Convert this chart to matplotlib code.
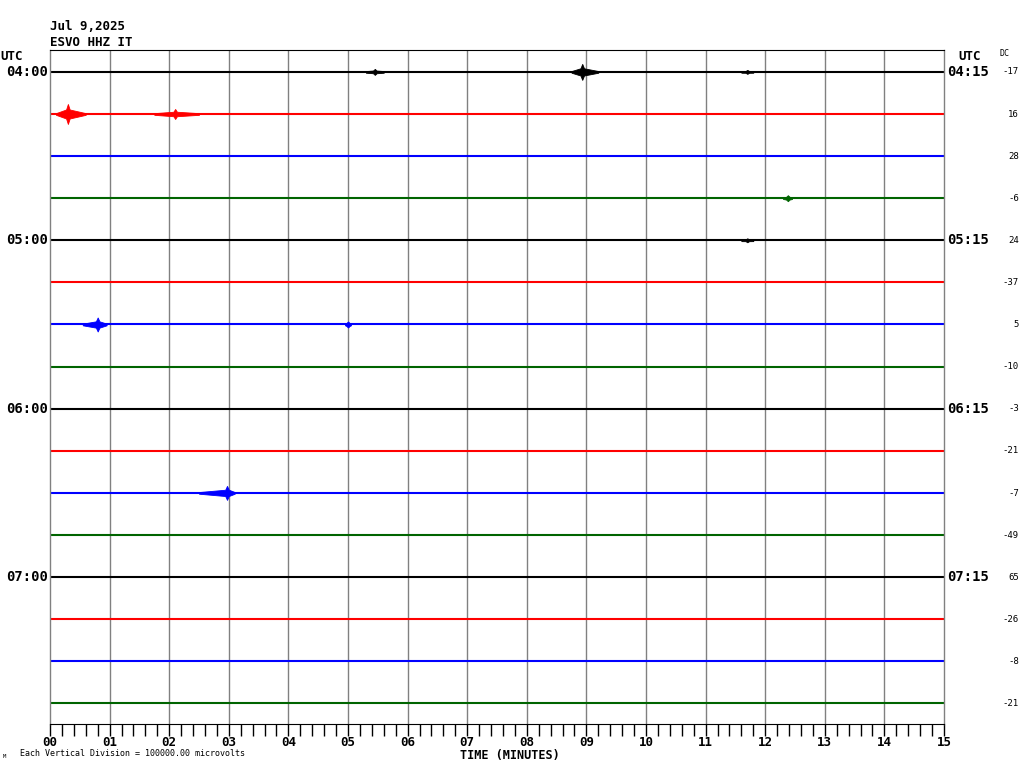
import matplotlib
matplotlib.use("Agg")
import matplotlib.pyplot as plt
from matplotlib.ticker import MultipleLocator

# helicorder layout: 16 lines of 15 minutes each
row_colors = ["black", "red", "blue", "#006400"] * 4
left_labels = ["04:00", "", "", "", "05:00", "", "", "", "06:00", "", "", "", "07:00", "", "", ""]
right_labels = ["04:15", "", "", "", "05:15", "", "", "", "06:15", "", "", "", "07:15", "", "", ""]
dc_values = ["-17", "16", "28", "-6", "24", "-37", "5", "-10", "-3", "-21", "-7", "-49", "65", "-26", "-8", "-21"]
minute_labels = ["%02d" % m for m in range(16)]

# visible bursts: row, start, peak, end (minutes), half-height (px)
event_row = [0, 0, 0, 1, 1, 3, 4, 6, 6, 10]
event_start = [5.3, 8.75, 11.6, 0.1, 1.75, 12.3, 11.6, 0.55, 4.95, 2.5]
event_peak = [5.45, 8.93, 11.7, 0.3, 2.1, 12.38, 11.7, 0.8, 5.0, 2.97]
event_end = [5.6, 9.2, 11.8, 0.6, 2.5, 12.45, 11.8, 0.95, 5.05, 3.1]
event_amp = [3, 8, 2, 10, 5, 3, 2, 7, 3, 7]

ROW_PX = 42.1
MONO = "DejaVu Sans Mono"

fig = plt.figure(figsize=(10.24, 7.68), dpi=100)
ax = fig.add_axes([50 / 1024, 44 / 768, 894 / 1024, 674 / 768])
ax.set_xlim(0, 15)
ax.set_ylim(-15.49, 0.52)

for m in range(1, 15):
    ax.axvline(m, color="#808080", lw=1.0, zorder=1)

for i, c in enumerate(row_colors):
    ax.plot([0, 15], [-i, -i], color=c, lw=1.5, zorder=2, solid_capstyle="butt")

for r, s, p, e, a in zip(event_row, event_start, event_peak, event_end, event_amp):
    h = a / ROW_PX
    xs = [s, p - 0.03, p, p + 0.03, e]
    up = [-r + 0.02, -r + 0.45 * h, -r + h, -r + 0.45 * h, -r + 0.02]
    dn = [-r - 0.02, -r - 0.45 * h, -r - h, -r - 0.45 * h, -r - 0.02]
    ax.fill_between(xs, up, dn, color=row_colors[r], lw=0.6, zorder=3)

for side in ["left", "right"]:
    ax.spines[side].set_color("#808080")
    ax.spines[side].set_linewidth(1.0)
ax.spines["top"].set_color("black")
ax.spines["bottom"].set_color("black")

ax.set_yticks([])
ax.xaxis.set_major_locator(MultipleLocator(1))
ax.xaxis.set_minor_locator(MultipleLocator(0.2))
ax.tick_params(axis="x", which="both", direction="out", length=8.5, width=1, color="black", pad=0.5)
ax.set_xticks(range(16))
ax.set_xticklabels(minute_labels, fontfamily=MONO, fontweight="bold", fontsize=9)

for i in range(16):
    y = 1 - (72 + i * ROW_PX) / 768
    if left_labels[i]:
        fig.text(48 / 1024, y, left_labels[i], ha="right", va="center", fontfamily=MONO,
                 fontweight="bold", fontsize=10)
    if right_labels[i]:
        fig.text(947 / 1024, y, right_labels[i], ha="left", va="center", fontfamily=MONO,
                 fontweight="bold", fontsize=10)
    fig.text(1019 / 1024, y, dc_values[i], ha="right", va="center", fontfamily=MONO, fontsize=6.5)

fig.text(50 / 1024, 1 - 26 / 768, "Jul 9,2025", fontfamily=MONO, fontweight="bold", fontsize=9, va="center")
fig.text(50 / 1024, 1 - 42 / 768, "ESVO HHZ IT", fontfamily=MONO, fontweight="bold", fontsize=9, va="center")
fig.text(0 / 1024, 1 - 57 / 768, "UTC", fontfamily=MONO, fontweight="bold", fontsize=9, va="center")
fig.text(958 / 1024, 1 - 57 / 768, "UTC", fontfamily=MONO, fontweight="bold", fontsize=9, va="center")
fig.text(999 / 1024, 1 - 54 / 768, "DC", fontfamily=MONO, fontsize=6, va="center")
fig.text(510 / 1024, 1 - 755 / 768, "TIME (MINUTES)", fontfamily=MONO, fontweight="bold", fontsize=8.5,
         ha="center", va="center")
fig.text(20 / 1024, 1 - 754 / 768, "Each Vertical Division = 100000.00 microvolts", fontfamily=MONO,
         fontsize=6, va="center")
fig.text(3 / 1024, 1 - 757 / 768, "M", fontfamily=MONO, fontsize=4, va="center")

fig.savefig("out.png", dpi=100)
